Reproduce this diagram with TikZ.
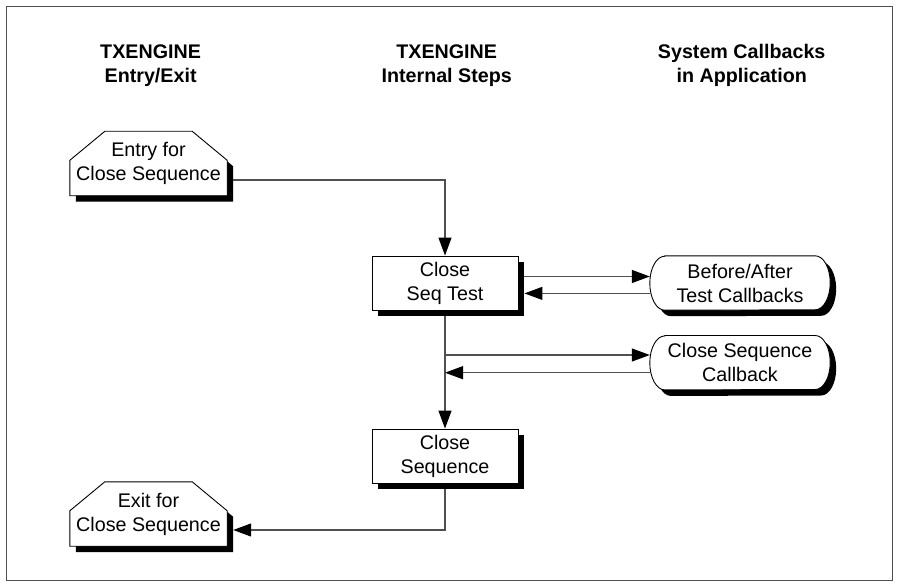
\documentclass[tikz,border=0pt]{standalone}
\usepackage{fontspec}
\setmainfont{Liberation Sans}
\usetikzlibrary{arrows.meta,shadows,backgrounds}
\definecolor{linegray}{RGB}{80,80,80}
\begin{document}
\begin{tikzpicture}[x=1pt,y=-1pt,
  every node/.style={font=\fontsize{19.7}{24}\selectfont, align=center, inner sep=0pt},
  shadowed/.style={drop shadow={shadow xshift=6pt, shadow yshift=-6pt, fill=black, opacity=1}},
  header/.style={font=\fontsize{19.7}{24}\selectfont\bfseries},
  outline/.style={draw=black, line width=0.9pt, fill=white},
  shadowcopy/.style={fill=black, transform canvas={shift={(6pt,-6pt)}}},
  stepbox/.style={rectangle, outline, shadowed, minimum width=146pt, minimum height=54pt},
  portbox/.style={rectangle, minimum width=157pt, minimum height=64pt},
  callbox/.style={rectangle, minimum width=180pt, minimum height=54pt},
  conn/.style={draw=linegray, line width=1.2pt,
    -{Triangle[length=18pt,width=13pt,fill=black,color=black]}}
]
\useasboundingbox (0,0) rectangle (898,586);
\draw[linegray, line width=1pt] (6,7) rectangle (892,580);

% column headings
\node[header] (h1) at (150.6,65.5) {TXENGINE\\Entry/Exit};
\node[header] (h2) at (446.7,65.5) {TXENGINE\\Internal Steps};
\node[header] (h3) at (741.7,65.5) {System Callbacks\\in Application};

% entry and exit points
\node[portbox] (entry) at (148.5,163.5) {Entry for\\Close Sequence};
\node[portbox] (exit) at (148.5,514) {Exit for\\Close Sequence};

% internal steps
\node[stepbox] (cst) at (445,283) {Close\\Seq Test};
\node[stepbox] (cs) at (445,456) {Close\\Sequence};

% application callbacks
\node[callbox] (ba) at (740,283) {Before/After\\Test Callbacks};
\node[callbox] (csc) at (740,362.7) {Close Sequence\\Callback};

% outlines behind the texts: chamfered ports and rounded callbacks
\begin{scope}[on background layer]
  \foreach \n in {entry,exit} {
    \foreach \sty in {shadowcopy,outline} {
      \path[\sty] (\n.south west) -- (\n.south east)
        -- ([yshift=-29pt]\n.north east) -- ([xshift=-35pt]\n.north east)
        -- ([xshift=35pt]\n.north west) -- ([yshift=-29pt]\n.north west) -- cycle;
    }
  }
  \foreach \n in {ba,csc} {
    \foreach \sty in {shadowcopy,outline} {
      \path[\sty] ([xshift=15pt]\n.north west) -- ([xshift=-15pt]\n.north east)
        arc[start angle=90, end angle=-90, x radius=15pt, y radius=27pt]
        -- ([xshift=15pt]\n.south west)
        arc[start angle=270, end angle=90, x radius=15pt, y radius=27pt] -- cycle;
    }
  }
\end{scope}

% flow
\draw[conn] ([xshift=6pt,yshift=-16.5pt]entry.east) -| (cst.north);
\draw[conn] ([xshift=6pt,yshift=6.5pt]cst.east) -- ([yshift=6.5pt]ba.west);
\draw[conn] ([yshift=-10.4pt]ba.west) -- ([xshift=6pt,yshift=-10.4pt]cst.east);
\draw[conn] ([yshift=-6pt]cst.south) -- (cs.north);
\coordinate (b1) at ([yshift=7.7pt]csc.west);
\coordinate (b2) at ([yshift=-10pt]csc.west);
\draw[conn] (cst.south |- b1) -- (b1);
\draw[conn] (b2) -- (cst.south |- b2);
\draw[conn] ([yshift=-6pt]cs.south) |- ([xshift=6pt,yshift=-16pt]exit.east);
\end{tikzpicture}
\end{document}
